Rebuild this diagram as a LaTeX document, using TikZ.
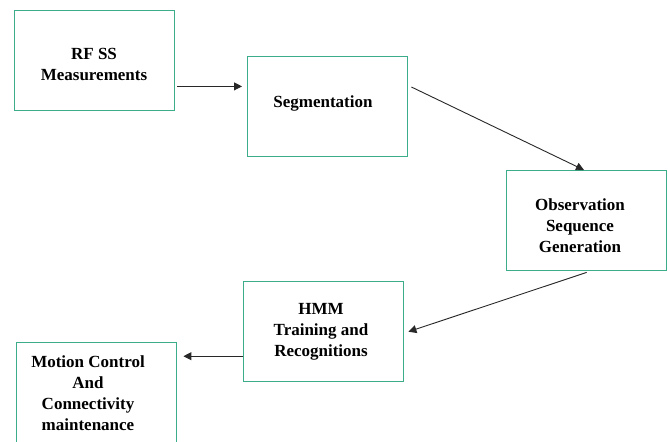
\documentclass[tikz,border=0pt]{standalone}
\usepackage{fontspec}
\setmainfont{Liberation Serif}
\usetikzlibrary{calc,arrows.meta}
\definecolor{boxgreen}{RGB}{60,172,138}
\definecolor{arrgray}{RGB}{40,40,40}
\begin{document}
\begin{tikzpicture}[x=1pt,y=-1pt,
  box/.style={draw=boxgreen,line width=1.4pt,fill=white,minimum width=160pt,minimum height=100pt,inner sep=0pt,anchor=north west},
  lbl/.style={align=center,font=\fontsize{17}{21}\selectfont\bfseries},
  arr/.style={draw=arrgray,line width=0.9pt,-{Triangle[length=8pt,width=8pt]}}]
\useasboundingbox (0,0) rectangle (668,441);
\clip (0,0) rectangle (668,441);
\fill[white] (0,0) rectangle (668,441);
\node[box] (b1) at (14,10) {};
\node[box] (b2) at (247,56) {};
\node[box] (b3) at (506,170) {};
\node[box] (b4) at (243,281) {};
\node[box] (b5) at (16,342) {};
\node[lbl] (t1) at (94,64) {RF SS\\Measurements};
\node[lbl] (t2) at (323,103) {Segmentation};
\node[lbl] (t3) at (580,226) {Observation\\Sequence\\Generation};
\node[lbl] (t4) at (321,332) {HMM\\Training and\\Recognitions};
\node[lbl] (t5) at (88,393) {Motion Control\\And\\Connectivity\\maintenance};
\coordinate (a1) at ($(b1.south east)+(2,-25)$);
\draw[arr] (a1) -- ([xshift=-5pt]b2.west |- a1);
\draw[arr] ($(b2.north east)+(3,31)$) -- ($(b3.north west)+(78,0)$);
\draw[arr] ($(b3.south)+(0,1)$) -- ($(b4.east)+(4,0)$);
\coordinate (a4) at ($(b4.west)+(0,24.5)$);
\draw[arr] (a4) -- ([xshift=6pt]b5.east |- a4);
\end{tikzpicture}
\end{document}
